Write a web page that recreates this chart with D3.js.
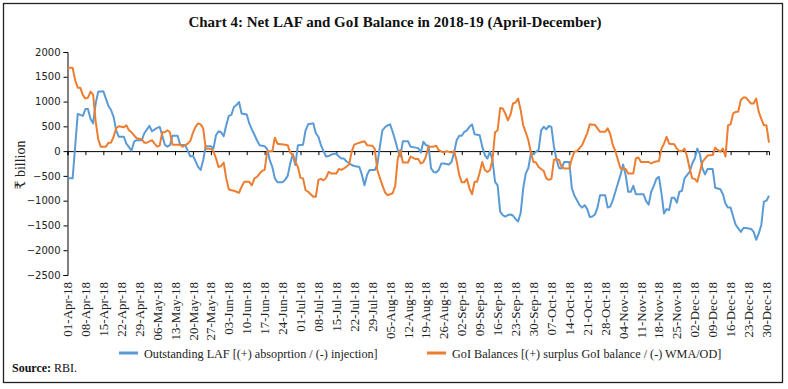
<!DOCTYPE html>
<html><head><meta charset="utf-8">
<script src="https://cdn.jsdelivr.net/npm/d3@7"></script>
<style>body{margin:0;background:#fff}svg{display:block}</style>
</head><body>
<svg id="c" width="788" height="389"></svg>
<script>
const title = "Chart 4: Net LAF and GoI Balance in 2018-19 (April-December)";
const seriesNames = ["Outstanding LAF [(+) absoprtion / (-) injection]", "GoI Balances [(+) surplus GoI balance / (-) WMA/OD]"];
const yTicks = [2000,1500,1000,500,0,-500,-1000,-1500,-2000,-2500];
const xTickLabels = ["01-Apr-18","08-Apr-18","15-Apr-18","22-Apr-18","29-Apr-18","06-May-18","13-May-18","20-May-18","27-May-18","03-Jun-18","10-Jun-18","17-Jun-18","24-Jun-18","01-Jul-18","08-Jul-18","15-Jul-18","22-Jul-18","29-Jul-18","05-Aug-18","12-Aug-18","19-Aug-18","26-Aug-18","02-Sep-18","09-Sep-18","16-Sep-18","23-Sep-18","30-Sep-18","07-Oct-18","14-Oct-18","21-Oct-18","28-Oct-18","04-Nov-18","11-Nov-18","18-Nov-18","25-Nov-18","02-Dec-18","09-Dec-18","16-Dec-18","23-Dec-18","30-Dec-18"];
const dateRange = ["01-Apr-18","31-Dec-18"];

const lafPoints = [
["01-Apr",-550],["03-Apr",-550],["05-Apr",750],["06-Apr",730],["07-Apr",710],["08-Apr",850],["09-Apr",850],["10-Apr",650],["11-Apr",560],["12-Apr",960],["13-Apr",1200],["15-Apr",1210],["16-Apr",1060],["17-Apr",910],["18-Apr",830],["19-Apr",690],["20-Apr",420],["21-Apr",290],["23-Apr",290],["24-Apr",150],["26-Apr",10],["27-Apr",190],["28-Apr",220],["30-Apr",220],
["01-May",360],["03-May",510],["04-May",400],["06-May",470],["07-May",490],["08-May",320],["09-May",130],["10-May",90],["11-May",120],["12-May",310],["14-May",310],["15-May",130],["17-May",120],["19-May",-110],["20-May",-90],["21-May",-200],["22-May",-320],["23-May",-380],["24-May",-180],["25-May",100],["27-May",100],["28-May",50],["29-May",320],["30-May",400],["31-May",380],
["01-Jun",300],["02-Jun",520],["03-Jun",710],["04-Jun",730],["05-Jun",890],["06-Jun",930],["07-Jun",990],["08-Jun",760],["10-Jun",740],["11-Jun",560],["12-Jun",440],["13-Jun",330],["14-Jun",220],["15-Jun",120],["17-Jun",100],["18-Jun",40],["19-Jun",-180],["20-Jun",-320],["21-Jun",-550],["22-Jun",-630],["24-Jun",-630],["25-Jun",-580],["26-Jun",-500],["27-Jun",-250],["28-Jun",-60],["29-Jun",-280],["30-Jun",120],
["02-Jul",130],["03-Jul",420],["04-Jul",540],["05-Jul",550],["06-Jul",560],["07-Jul",360],["08-Jul",290],["09-Jul",120],["10-Jul",0],["11-Jul",-110],["12-Jul",-100],["13-Jul",-70],["15-Jul",-50],["16-Jul",-110],["17-Jul",-150],["18-Jul",-150],["19-Jul",-210],["21-Jul",-280],["22-Jul",-300],["23-Jul",-310],["24-Jul",-320],["25-Jul",-480],["26-Jul",-690],["27-Jul",-480],["28-Jul",-380],["30-Jul",-380],["31-Jul",-280],
["01-Aug",90],["02-Aug",420],["03-Aug",480],["04-Aug",520],["05-Aug",540],["06-Aug",390],["07-Aug",220],["08-Aug",20],["09-Aug",-110],["10-Aug",200],["12-Aug",200],["13-Aug",90],["15-Aug",70],["16-Aug",60],["17-Aug",-30],["18-Aug",190],["19-Aug",120],["20-Aug",110],["21-Aug",-350],["22-Aug",-420],["23-Aug",-430],["24-Aug",-380],["25-Aug",-250],["26-Aug",-250],["28-Aug",-270],["29-Aug",-220],["30-Aug",-30],["31-Aug",220],
["01-Sep",310],["02-Sep",310],["03-Sep",390],["04-Sep",420],["05-Sep",490],["06-Sep",540],["07-Sep",340],["09-Sep",320],["10-Sep",90],["11-Sep",-80],["12-Sep",-150],["13-Sep",-10],["14-Sep",-180],["15-Sep",-620],["16-Sep",-690],["17-Sep",-1220],["18-Sep",-1290],["19-Sep",-1320],["20-Sep",-1290],["21-Sep",-1280],["22-Sep",-1300],["23-Sep",-1370],["24-Sep",-1420],["25-Sep",-1250],["26-Sep",-750],["27-Sep",-450],["28-Sep",-340],["29-Sep",-50],["30-Sep",-60],
["01-Oct",-10],["02-Oct",20],["03-Oct",420],["04-Oct",490],["05-Oct",440],["06-Oct",510],["07-Oct",490],["08-Oct",90],["09-Oct",-180],["10-Oct",-340],["11-Oct",-350],["12-Oct",-220],["14-Oct",-220],["15-Oct",-750],["16-Oct",-900],["17-Oct",-990],["18-Oct",-1090],["19-Oct",-1140],["20-Oct",-1090],["21-Oct",-1170],["22-Oct",-1330],["23-Oct",-1320],["24-Oct",-1280],["25-Oct",-1140],["26-Oct",-890],["28-Oct",-890],["29-Oct",-1140],["30-Oct",-1120],["31-Oct",-990],
["02-Nov",-650],["03-Nov",-480],["04-Nov",-270],["05-Nov",-480],["06-Nov",-820],["07-Nov",-820],["08-Nov",-700],["09-Nov",-870],["11-Nov",-870],["12-Nov",-870],["13-Nov",-1010],["14-Nov",-1080],["15-Nov",-820],["16-Nov",-700],["17-Nov",-560],["18-Nov",-520],["19-Nov",-850],["20-Nov",-1260],["21-Nov",-1170],["22-Nov",-1190],["23-Nov",-940],["24-Nov",-940],["25-Nov",-1040],["26-Nov",-820],["27-Nov",-800],["28-Nov",-550],["30-Nov",-420],
["01-Dec",-250],["02-Dec",-150],["03-Dec",50],["04-Dec",-60],["05-Dec",-350],["06-Dec",-470],["07-Dec",-360],["09-Dec",-360],["10-Dec",-740],["12-Dec",-770],["13-Dec",-870],["14-Dec",-1060],["15-Dec",-1140],["16-Dec",-1140],["17-Dec",-1320],["18-Dec",-1490],["20-Dec",-1630],["21-Dec",-1550],["22-Dec",-1550],["24-Dec",-1570],["25-Dec",-1630],["26-Dec",-1790],["27-Dec",-1660],["28-Dec",-1490],["29-Dec",-1020],["30-Dec",-1000],["31-Dec",-900]
];

const goiPoints = [
["01-Apr",1680],["03-Apr",1680],["04-Apr",1430],["05-Apr",1280],["06-Apr",1280],["07-Apr",1130],["08-Apr",1060],["09-Apr",1080],["10-Apr",1200],["11-Apr",1140],["12-Apr",600],["13-Apr",240],["14-Apr",90],["16-Apr",90],["17-Apr",170],["18-Apr",170],["19-Apr",290],["20-Apr",460],["21-Apr",500],["23-Apr",480],["24-Apr",520],["25-Apr",420],["26-Apr",380],["28-Apr",260],["30-Apr",240],
["01-May",170],["02-May",170],["04-May",220],["05-May",150],["06-May",90],["07-May",110],["08-May",380],["09-May",380],["10-May",420],["11-May",380],["12-May",130],["15-May",130],["16-May",90],["18-May",150],["19-May",210],["20-May",370],["21-May",490],["22-May",560],["23-May",540],["24-May",460],["25-May",50],["27-May",50],["28-May",0],["29-May",-150],["30-May",-320],["31-May",-300],
["01-Jun",-230],["02-Jun",-550],["03-Jun",-770],["04-Jun",-790],["05-Jun",-800],["06-Jun",-820],["07-Jun",-840],["08-Jun",-720],["09-Jun",-620],["11-Jun",-620],["12-Jun",-690],["13-Jun",-550],["14-Jun",-520],["16-Jun",-400],["17-Jun",-380],["18-Jun",-10],["20-Jun",0],["21-Jun",270],["22-Jun",150],["25-Jun",130],["26-Jun",120],["27-Jun",-30],["28-Jun",-80],["29-Jun",-220],["30-Jun",-320],
["01-Jul",-540],["02-Jul",-550],["03-Jul",-790],["04-Jul",-820],["06-Jul",-920],["07-Jul",-920],["08-Jul",-580],["09-Jul",-560],["10-Jul",-590],["11-Jul",-540],["12-Jul",-420],["13-Jul",-450],["15-Jul",-450],["16-Jul",-360],["17-Jul",-380],["18-Jul",-350],["20-Jul",-270],["21-Jul",-10],["22-Jul",130],["24-Jul",170],["26-Jul",200],["27-Jul",120],["29-Jul",110],["30-Jul",50],["31-Jul",-380],
["01-Aug",-540],["02-Aug",-690],["03-Aug",-830],["04-Aug",-890],["06-Aug",-850],["07-Aug",-700],["08-Aug",-150],["09-Aug",20],["10-Aug",-230],["12-Aug",-230],["13-Aug",-110],["15-Aug",-160],["16-Aug",-160],["17-Aug",-250],["18-Aug",-220],["19-Aug",-110],["20-Aug",90],["22-Aug",90],["23-Aug",110],["24-Aug",20],["26-Aug",-30],["27-Aug",0],["29-Aug",-30],["30-Aug",0],["31-Aug",-200],
["01-Sep",-480],["02-Sep",-630],["03-Sep",-630],["04-Sep",-560],["05-Sep",-750],["06-Sep",-870],["07-Sep",-620],["08-Sep",-620],["09-Sep",-430],["10-Sep",-220],["11-Sep",-380],["12-Sep",-420],["13-Sep",-380],["14-Sep",-180],["15-Sep",380],["16-Sep",420],["17-Sep",870],["18-Sep",860],["19-Sep",760],["20-Sep",620],["21-Sep",730],["22-Sep",960],["23-Sep",980],["24-Sep",1060],["25-Sep",830],["26-Sep",520],["27-Sep",380],["28-Sep",220],["29-Sep",-30],["30-Sep",-220],
["01-Oct",-230],["02-Oct",-320],["04-Oct",-400],["05-Oct",-550],["06-Oct",-580],["07-Oct",-560],["08-Oct",-180],["09-Oct",-160],["10-Oct",-180],["11-Oct",-320],["12-Oct",-350],["14-Oct",-350],["15-Oct",-150],["16-Oct",-10],["17-Oct",0],["19-Oct",120],["20-Oct",240],["21-Oct",360],["22-Oct",540],["23-Oct",530],["24-Oct",530],["25-Oct",460],["26-Oct",390],["28-Oct",390],["29-Oct",460],["30-Oct",340],["31-Oct",120],
["01-Nov",0],["02-Nov",-180],["03-Nov",-350],["05-Nov",-360],["06-Nov",-450],["08-Nov",-450],["09-Nov",-150],["10-Nov",-130],["11-Nov",-220],["13-Nov",-220],["14-Nov",-220],["15-Nov",-250],["16-Nov",-220],["18-Nov",-200],["19-Nov",50],["20-Nov",150],["21-Nov",290],["22-Nov",150],["24-Nov",140],["25-Nov",50],["26-Nov",0],["27-Nov",0],["28-Nov",50],["29-Nov",-110],["30-Nov",-350],
["01-Dec",-550],["02-Dec",-560],["03-Dec",-620],["04-Dec",-420],["05-Dec",-220],["06-Dec",-150],["07-Dec",-90],["09-Dec",-80],["10-Dec",70],["11-Dec",20],["12-Dec",-10],["13-Dec",50],["14-Dec",-110],["15-Dec",520],["16-Dec",540],["17-Dec",760],["18-Dec",790],["19-Dec",800],["20-Dec",1030],["21-Dec",1080],["22-Dec",1080],["24-Dec",960],["25-Dec",960],["26-Dec",1060],["27-Dec",790],["28-Dec",650],["29-Dec",520],["30-Dec",520],["31-Dec",170]
];

const colors = ["#5B9BD5", "#ED7D31"];

const parse = d3.utcParse("%d-%b-%y");
const svg = d3.select("#c");
const serif = "'Liberation Serif', 'DejaVu Serif', serif";

// frame
svg.append("rect").attr("x",3.5).attr("y",3.5).attr("width",779).attr("height",379)
  .attr("fill","none").attr("stroke","#222").attr("stroke-width",1.3);

svg.append("text").attr("x",395).attr("y",27).attr("text-anchor","middle")
  .attr("font-family",serif).attr("font-weight","bold").attr("font-size",15)
  .attr("fill","#111").text(title);

const x = d3.scaleUtc().domain(dateRange.map(parse)).range([67.5, 769]);
const y = d3.scaleLinear().domain([-2500, 2000]).range([275, 52]);

// y axis
const yAxis = d3.axisLeft(y).tickValues(yTicks).tickSize(4).tickPadding(3).tickFormat(d3.format("d"));
const gy = svg.append("g").attr("transform","translate(67.5,0)").call(yAxis);
gy.select(".domain").attr("stroke","#000");
gy.selectAll(".tick line").attr("stroke","#000");
gy.selectAll("text").attr("font-family","'DejaVu Sans', sans-serif").attr("font-size",10).attr("fill","#222");

svg.append("text").attr("transform","translate(25,165) rotate(-90)").attr("text-anchor","middle")
  .attr("font-family",serif).attr("font-size",14).attr("fill","#222").text("₹ billion");

// zero-line x axis with ticks
const tickDates = xTickLabels.map(parse);
const xAxis = d3.axisBottom(x).tickValues(tickDates).tickSize(4).tickFormat("");
const gx = svg.append("g").attr("transform",`translate(0,${y(0)})`).call(xAxis);
gx.select(".domain").attr("stroke","#000");
gx.selectAll(".tick line").attr("stroke","#000");

// bottom rotated labels
svg.append("g").selectAll("text").data(xTickLabels).join("text")
  .attr("transform", d => `translate(${x(parse(d))},282) rotate(-90)`)
  .attr("text-anchor","end").attr("dy","0.35em")
  .attr("font-family",serif).attr("font-size",13).attr("fill","#222")
  .text(d => d);

// lines
const line = d3.line().x(d => x(parse(d[0] + "-18"))).y(d => y(d[1]));
[lafPoints, goiPoints].forEach((pts, i) => {
  svg.append("path").attr("d", line(pts)).attr("fill","none")
    .attr("stroke", colors[i]).attr("stroke-width", 2).attr("stroke-linejoin","round");
});

// legend
const legendX = [119, 427];
seriesNames.forEach((name, i) => {
  svg.append("line").attr("x1",legendX[i]).attr("x2",legendX[i]+19).attr("y1",353).attr("y2",353)
    .attr("stroke",colors[i]).attr("stroke-width",3);
  svg.append("text").attr("x",legendX[i]+25).attr("y",357.5)
    .attr("font-family",serif).attr("font-size",12.2).attr("fill","#222").text(name);
});

// source
const src = svg.append("text").attr("x",12).attr("y",372).attr("font-family",serif).attr("font-size",12).attr("fill","#111");
src.append("tspan").attr("font-weight","bold").text("Source:");
src.append("tspan").text(" RBI.");
</script>
</body></html>
